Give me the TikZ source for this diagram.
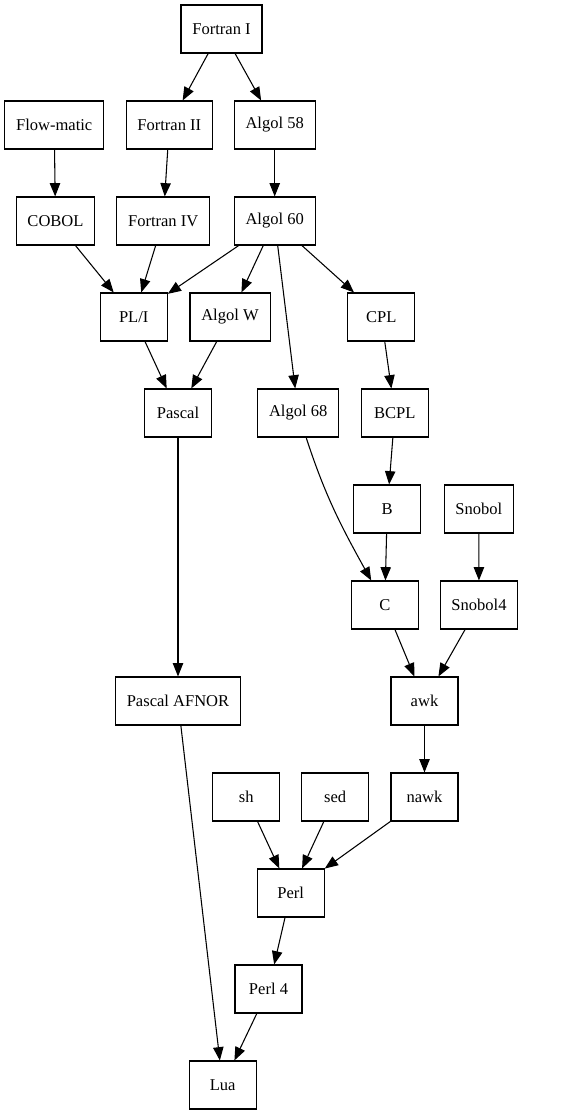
\documentclass[tikz,border=0pt]{standalone}
\usepackage{fontspec}
\setmainfont{Liberation Serif}
\usetikzlibrary{arrows.meta}
\tikzset{
  lang/.style={draw, rectangle, line width=0.8pt, minimum width=50.25pt,
    minimum height=36pt, inner xsep=8.5pt, font=\fontsize{12.4}{14}\selectfont},
  edge/.style={-{Triangle[length=10pt,width=7.8pt]}, line width=0.8pt}
}
\begin{document}
\begin{tikzpicture}[x=0.75pt,y=0.75pt]
      \useasboundingbox (0,0) rectangle (563,-1115);
      \draw
        (221.5,-29) node[lang] (fortran1){Fortran I}
        (54.2,-125) node[lang] (flowmatic){Flow-matic}
        (169.3,-125) node[lang] (fortran2){Fortran II}
        (274.7,-125) node[lang] (algol58){Algol 58}
        (55.5,-221) node[lang] (cobol){COBOL}
        (163.2,-221) node[lang] (fortran4){Fortran IV}
        (274.7,-221) node[lang] (algol60){Algol 60}
        (133.7,-317) node[lang] (pli){PL/I}
        (230.0,-317) node[lang] (algolw){Algol W}
        (381.3,-317) node[lang] (cpl){CPL}
        (178.0,-413) node[lang] (pascal){Pascal}
        (298.2,-413) node[lang] (algol68){Algol 68}
        (394.8,-413) node[lang] (bcpl){BCPL}
        (387.2,-509) node[lang] (b){B}
        (478.8,-509) node[lang] (snobol){Snobol}
        (384.8,-605) node[lang] (c){C}
        (479.0,-605) node[lang] (snobol4){Snobol4}
        (178.0,-701) node[lang] (afnor){Pascal AFNOR}
        (424.5,-701) node[lang] (awk){awk}
        (246.2,-797) node[lang] (sh){sh}
        (335.2,-797) node[lang] (sed){sed}
        (424.5,-797) node[lang] (nawk){nawk}
        (290.7,-893) node[lang] (perl){Perl}
        (268.5,-989) node[lang] (perl4){Perl 4}
        (222.7,-1085) node[lang] (lua){Lua};
      \begin{scope}[edge]
        \draw (fortran1) to (fortran2);
        \draw (fortran1) to (algol58);
        \draw (flowmatic) to (cobol);
        \draw (fortran2) to (fortran4);
        \draw (algol58) to (algol60);
        \draw (cobol) to (pli);
        \draw (fortran4) to (pli);
        \draw (algol60) to (pli);
        \draw (algol60) to (algolw);
        \draw (algol60) to (algol68);
        \draw (algol60) to (cpl);
        \draw (pli) to (pascal);
        \draw (algolw) to (pascal);
        \draw (cpl) to (bcpl);
        \draw (bcpl) to (b);
        \draw (algol68) to[out=-72,in=119] (c);
        \draw (b) to (c);
        \draw (snobol) to (snobol4);
        \draw (pascal) to (afnor);
        \draw (c) to (awk);
        \draw (snobol4) to (awk);
        \draw (awk) to (nawk);
        \draw (sh) to (perl);
        \draw (sed) to (perl);
        \draw (nawk) to (perl);
        \draw (perl) to (perl4);
        \draw (perl4) to (lua);
        \draw (afnor) to (lua);
      \end{scope}
    \end{tikzpicture}
\end{document}
